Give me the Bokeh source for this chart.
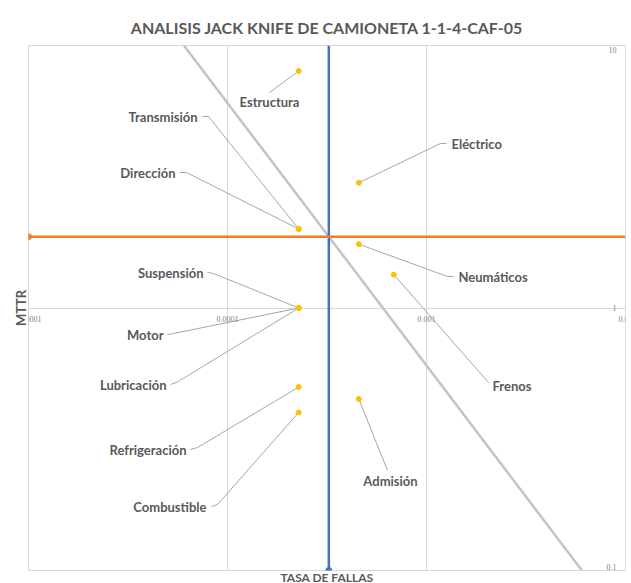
from bokeh.plotting import figure
from bokeh.models import Label, FixedTicker, Range1d, Grid, Title
from bokeh.embed import file_html
from bokeh.resources import INLINE

# ---- data ----
components = ["Estructura", "Eléctrico", "Transmisión", "Dirección", "Neumáticos", "Frenos",
              "Suspensión", "Motor", "Lubricación", "Refrigeración", "Combustible", "Admisión"]
failure_rate = [2.28e-4, 4.57e-4, 2.28e-4, 2.28e-4, 4.57e-4, 6.85e-4,
                2.28e-4, 2.28e-4, 2.28e-4, 2.28e-4, 2.28e-4, 4.57e-4]
mttr = [8.0, 3.0, 2.0, 2.0, 1.75, 1.34, 1.0, 1.0, 1.0, 0.5, 0.4, 0.45]
rate_limit = 3.23e-4     # blue vertical threshold
mttr_limit = 1.87        # orange horizontal threshold
x_ticks = [1e-5, 1e-4, 1e-3, 1e-2]
x_tick_labels = ["0.00001", "0.0001", "0.001", "0.01"]
y_ticks = [0.1, 1, 10]
y_tick_labels = ["0.1", "1", "10"]

# ---- layout helpers (page pixel -> data coords) ----
W, H = 631, 583
FL, FR, FT, FB = 28, 625, 45, 570
def dx(px):
    return 10 ** (-5 + (px - FL) / (FR - FL) * 3)
def dy(py):
    return 10 ** (1 - (py - FT) / (FB - FT) * 2)

# label anchor (page px), align, elbow (page px)
label_layout = {
    "Estructura":    ((269, 101), "center", [(269, 92)]),
    "Eléctrico":     ((451, 143), "left",   [(446, 143), (440, 143)]),
    "Transmisión":   ((197, 116), "right",  [(202, 116), (208, 116)]),
    "Dirección":     ((175, 172), "right",  [(179, 172), (186, 172)]),
    "Neumáticos":    ((458, 276), "left",   [(453, 276), (447, 276)]),
    "Frenos":        ((492, 385), "left",   [(488, 382)]),
    "Suspensión":    ((203, 272), "right",  [(207, 272), (213, 273)]),
    "Motor":         ((163, 334), "right",  [(167, 334), (173, 333)]),
    "Lubricación":   ((166, 384), "right",  [(170, 384), (176, 382)]),
    "Refrigeración": ((186, 449), "right",  [(190, 449), (197, 447)]),
    "Combustible":   ((206, 506), "right",  [(211, 506), (217, 504)]),
    "Admisión":      ((390, 480), "center", [(387, 470)]),
}

TXT = "#595959"
p = figure(width=W, height=H, x_axis_type="log", y_axis_type="log",
           x_range=Range1d(1e-5, 1e-2), y_range=Range1d(0.1, 10),
           x_axis_location=None, y_axis_location=None,
           output_backend="svg", toolbar_location=None,
           min_border_left=FL, min_border_right=W - FR,
           min_border_top=FT, min_border_bottom=H - FB)
p.outline_line_color = "#d9d9d9"
p.background_fill_color = "white"
p.border_fill_color = "white"
p.grid.visible = False

p.title.text = "ANALISIS JACK KNIFE DE CAMIONETA 1-1-4-CAF-05"
p.title.align = "center"
p.title.text_font = "Lato"
p.title.text_font_style = "bold"
p.title.text_font_size = "16px"
p.title.text_color = TXT
p.title.standoff = 17

p.add_layout(Title(text="TASA DE FALLAS", align="center", text_font="Lato",
                   text_font_style="bold", text_font_size="12px", text_color=TXT,
                   standoff=-6, offset=0), "below")
p.add_layout(Title(text="MTTR", align="center", text_font="Lato",
                   text_font_style="bold", text_font_size="13px", text_color=TXT,
                   standoff=0, offset=0), "left")

p.add_layout(Grid(dimension=0, ticker=FixedTicker(ticks=x_ticks[1:3]),
                  grid_line_color="#d9d9d9", grid_line_width=1))
p.add_layout(Grid(dimension=1, ticker=FixedTicker(ticks=[1]),
                  grid_line_color="#d9d9d9", grid_line_width=1))

# tick labels (axes cross at MTTR = 1 and at rate = 0.01)
for t, lab in zip(x_ticks, x_tick_labels):
    p.add_layout(Label(x=t, y=1, text=lab, text_align="center", text_baseline="middle",
                       y_offset=-11, text_font="Liberation Serif",
                       text_font_size="8px", text_color="#7f7f7f"))
y_offsets = [4, 0, -4]
for t, lab, off in zip(y_ticks, y_tick_labels, y_offsets):
    p.add_layout(Label(x=1e-2, y=t, text=lab, text_align="right", text_baseline="middle",
                       x_offset=-9, y_offset=off, text_font="Liberation Serif",
                       text_font_size="8px", text_color="#7f7f7f"))

# diagonal iso-line (constant product)
K = rate_limit * mttr_limit
p.line([K / 10, K / 0.1], [10, 0.1], line_color="#c4c4c4", line_width=2.5)

# thresholds
p.line([rate_limit, rate_limit], [0.1, 10], line_color="#4472c4", line_width=2.5)
p.scatter([rate_limit], [0.1], size=6, color="#4472c4")
p.line([1e-5, 1e-2], [mttr_limit, mttr_limit], line_color="#ed7d31", line_width=2.5)
p.scatter([1e-5], [mttr_limit], size=6, color="#ed7d31")

# leader lines and labels
xs, ys = [], []
for name, r, m in zip(components, failure_rate, mttr):
    (lx, ly), align, elbows = label_layout[name]
    xs.append([dx(ex) for ex, _ in elbows] + [r])
    ys.append([dy(ey) for _, ey in elbows] + [m])
p.multi_line(xs, ys, line_color="#a6a6a6", line_width=1)

p.scatter(failure_rate, mttr, size=5, color="#ffc000")

for name in components:
    (lx, ly), align, elbows = label_layout[name]
    p.add_layout(Label(x=dx(lx), y=dy(ly), text=name, text_align=align,
                       text_baseline="middle", text_font="Lato",
                       text_font_style="bold", text_font_size="13px",
                       text_color=TXT))

open("out.html", "w").write(file_html(p, INLINE))
